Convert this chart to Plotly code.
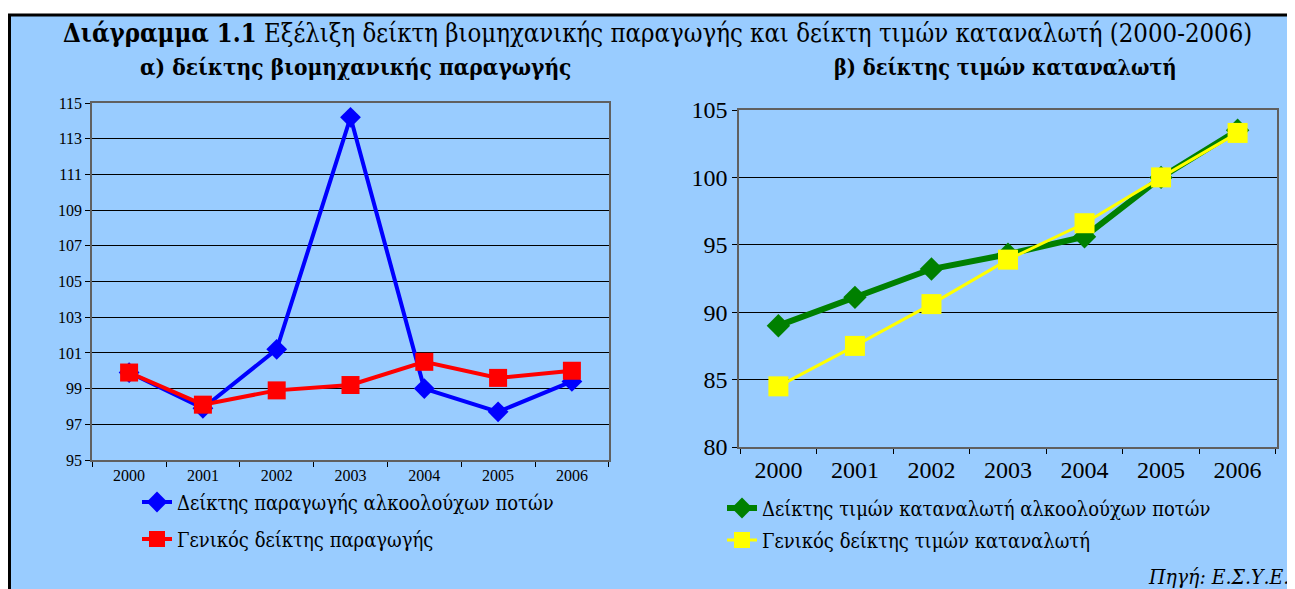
import plotly.graph_objects as go

years = ["2000", "2001", "2002", "2003", "2004", "2005", "2006"]

# (α) industrial production index
prod_alcohol = [99.9, 97.9, 101.2, 114.2, 99.0, 97.7, 99.4]
prod_general = [99.9, 98.1, 98.9, 99.2, 100.5, 99.6, 100.0]

# (β) consumer price index
cpi_alcohol = [89.0, 91.1, 93.2, 94.3, 95.6, 100.0, 103.5]
cpi_general = [84.5, 87.5, 90.6, 93.9, 96.6, 100.0, 103.3]

left_yticks = [95, 97, 99, 101, 103, 105, 107, 109, 111, 113, 115]
right_yticks = [80, 85, 90, 95, 100, 105]

# page body has an 8px margin: the figure is sized to fit the window after it
OFF = 8
W, H = 1295 - OFF, 589 - OFF
SERIF = "Liberation Serif"
GREEK = "DejaVu Serif Condensed, Liberation Serif"
BLUE_BG = "#99CCFF"

def px(x):
    return (x - OFF) / W

def py(y):
    return 1 - (y - OFF) / H

fig = go.Figure()

fig.add_trace(go.Scatter(
    x=years, y=prod_alcohol, name="Δείκτης παραγωγής αλκοολούχων ποτών",
    mode="lines+markers", line=dict(color="#0000FF", width=4),
    marker=dict(symbol="diamond", size=16, color="#0000FF"),
    xaxis="x", yaxis="y", legend="legend"))
fig.add_trace(go.Scatter(
    x=years, y=prod_general, name="Γενικός δείκτης παραγωγής",
    mode="lines+markers", line=dict(color="#FF0000", width=4),
    marker=dict(symbol="square", size=18, color="#FF0000"),
    xaxis="x", yaxis="y", legend="legend2"))
fig.add_trace(go.Scatter(
    x=years, y=cpi_alcohol, name="Δείκτης τιμών καταναλωτή αλκοολούχων ποτών",
    mode="lines+markers", line=dict(color="#008000", width=6),
    marker=dict(symbol="diamond", size=18, color="#008000"),
    xaxis="x2", yaxis="y2", legend="legend3"))
fig.add_trace(go.Scatter(
    x=years, y=cpi_general, name="Γενικός δείκτης τιμών καταναλωτή",
    mode="lines+markers", line=dict(color="#FFFF00", width=3),
    marker=dict(symbol="square", size=20, color="#FFFF00"),
    xaxis="x2", yaxis="y2", legend="legend4"))

axis_common = dict(showline=True, linecolor="#606060", linewidth=1.5, mirror=True,
                   ticks="outside", tickcolor="#000000", ticklen=5, zeroline=False,
                   automargin=False)

shapes = [
    dict(type="rect", xref="paper", yref="paper", x0=px(9.5), x1=1.02, y0=-0.02, y1=py(15),
         fillcolor=BLUE_BG, line=dict(width=0), layer="below"),
    dict(type="line", xref="paper", yref="paper", x0=px(8), x1=1.02, y0=py(15), y1=py(15),
         line=dict(color="#000000", width=3)),
    dict(type="line", xref="paper", yref="paper", x0=px(9.5), x1=px(9.5), y0=py(14), y1=-0.02,
         line=dict(color="#000000", width=3)),
]

def ann(text, x, y, size, xanchor="center"):
    return dict(text=text, x=px(x), y=py(y), xref="paper", yref="paper",
                xanchor=xanchor, yanchor="middle", showarrow=False,
                font=dict(family=GREEK, size=size, color="#000000"))

annotations = [
    ann("<b>Διάγραμμα 1.1</b> Εξέλιξη δείκτη βιομηχανικής παραγωγής και δείκτη τιμών καταναλωτή (2000-2006)",
        657, 33, 25.5),
    ann("<b>α) δείκτης βιομηχανικής παραγωγής</b>", 355, 67, 22.5),
    ann("<b>β) δείκτης τιμών καταναλωτή</b>", 1005, 67, 21.5),
    ann("<i>Πηγή: Ε.Σ.Υ.Ε.</i>", 1291, 577, 21, xanchor="right"),
]

def legend_at(x, y, size):
    return dict(x=px(x), y=py(y), xanchor="left", yanchor="middle",
                bgcolor="rgba(0,0,0,0)", borderwidth=0,
                font=dict(family=GREEK, size=size, color="#000000"),
                itemsizing="trace")

fig.update_layout(
    width=W, height=H,
    margin=dict(l=0, r=0, t=0, b=0, autoexpand=False),
    paper_bgcolor="#FFFFFF",
    plot_bgcolor="#C0C0C0",
    showlegend=True,
    xaxis=dict(domain=[px(92), px(609)], anchor="y", type="category",
               tickson="boundaries", showgrid=False,
               tickfont=dict(family=SERIF, size=16, color="#000000"), **axis_common),
    yaxis=dict(domain=[py(460), py(103)], anchor="x", range=[95, 115],
               tickvals=left_yticks, showgrid=True, gridcolor="#000000", gridwidth=1,
               tickfont=dict(family=SERIF, size=16, color="#000000"), **axis_common),
    xaxis2=dict(domain=[px(739), px(1277)], anchor="y2", type="category",
                tickson="boundaries", showgrid=False,
                tickfont=dict(family=SERIF, size=24, color="#000000"), **axis_common),
    yaxis2=dict(domain=[py(447), py(110)], anchor="x2", range=[80, 105],
                tickvals=right_yticks, showgrid=True, gridcolor="#000000", gridwidth=1,
                tickfont=dict(family=SERIF, size=24, color="#000000"), **axis_common),
    legend=legend_at(137, 502, 20),
    legend2=legend_at(137, 539, 20),
    legend3=legend_at(722, 508, 20),
    legend4=legend_at(722, 540, 20),
    shapes=shapes,
    annotations=annotations,
)

fig.write_html("out.html")
